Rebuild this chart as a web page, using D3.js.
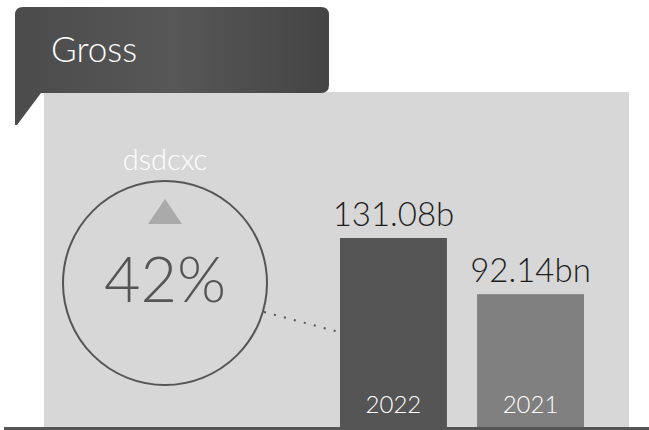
<!DOCTYPE html>
<html><head><meta charset="utf-8">
<script src="https://cdn.jsdelivr.net/npm/d3@7/dist/d3.min.js"></script>
<style>
html,body{margin:0;padding:0;background:#fff;}
svg{display:block;font-family:Lato,Roboto,sans-serif;font-weight:300;}
</style></head>
<body>
<svg id="chart" width="649" height="430"></svg>
<script>
const title = "Gross";
const categories = ["2022", "2021"];
const values = [131.08, 92.14];
const valueLabels = ["131.08b", "92.14bn"];
const kpiLabel = "dsdcxc";
const kpiValue = "42%";
const barColors = ["#555555", "#808080"];

const svg = d3.select("#chart");
const W = 649, H = 430;
const panel = {x0: 44, x1: 629, y0: 92, y1: 427};

const defs = svg.append("defs");
const g = defs.append("linearGradient").attr("id", "hdr").attr("x1", "0").attr("x2", "1").attr("y1", "0").attr("y2", "0");
g.append("stop").attr("offset", "0").attr("stop-color", "#4b4b4b");
g.append("stop").attr("offset", "0.5").attr("stop-color", "#575757");
g.append("stop").attr("offset", "1").attr("stop-color", "#444444");

svg.append("rect").attr("x", panel.x0).attr("y", panel.y0)
  .attr("width", panel.x1 - panel.x0).attr("height", panel.y1 - panel.y0).attr("fill", "#d7d7d7");

const p = d3.path();
p.moveTo(15, 15); p.quadraticCurveTo(15, 7, 23, 7);
p.lineTo(321, 7); p.quadraticCurveTo(329, 7, 329, 15);
p.lineTo(329, 85); p.quadraticCurveTo(329, 93, 321, 93);
p.lineTo(41, 93); p.lineTo(17, 125); p.lineTo(15, 125); p.closePath();
svg.append("path").attr("d", p.toString()).attr("fill", "url(#hdr)");
svg.append("text").attr("x", 51).attr("y", 62).attr("fill", "#fff")
  .attr("font-size", 35).text(title);

const x = d3.scaleBand().domain(categories).range([340, 584]).paddingInner(0.22);
const y = d3.scaleLinear().domain([0, d3.max(values)]).range([panel.y1, 238]);

const bars = svg.append("g");
categories.forEach((c, i) => {
  bars.append("rect").attr("x", x(c)).attr("y", y(values[i]))
    .attr("width", x.bandwidth()).attr("height", y(0) - y(values[i]))
    .attr("fill", barColors[i]);
  bars.append("text").attr("x", x(c) + x.bandwidth() / 2).attr("y", y(values[i]) - 12)
    .attr("text-anchor", "middle").attr("font-size", 33).attr("fill", "#1e1e1e").text(valueLabels[i]);
  bars.append("text").attr("x", x(c) + x.bandwidth() / 2).attr("y", 413)
    .attr("text-anchor", "middle").attr("font-size", 24).attr("fill", "#fff").text(c);
});

const cx = 165, cy = 283, r = 102;
svg.append("circle").attr("cx", cx).attr("cy", cy).attr("r", r)
  .attr("fill", "none").attr("stroke", "#555").attr("stroke-width", 2);
svg.append("text").attr("x", cx).attr("y", 170).attr("text-anchor", "middle")
  .attr("font-size", 29).attr("fill", "#fff").text(kpiLabel);
svg.append("path").attr("d", `M${cx - 17},224 L${cx + 17},224 L${cx},199 Z`).attr("fill", "#aaaaaa");
svg.append("text").attr("x", cx).attr("y", 302).attr("text-anchor", "middle")
  .attr("font-size", 63).attr("fill", "#555").text(kpiValue);

svg.append("line").attr("x1", 264).attr("y1", 312).attr("x2", x(categories[0]) - 1).attr("y2", 332)
  .attr("stroke", "#555").attr("stroke-width", 2).attr("stroke-dasharray", "2,8.3");

svg.append("rect").attr("x", 4).attr("y", 427).attr("width", W - 4).attr("height", 3).attr("fill", "#555");
</script>
</body></html>
